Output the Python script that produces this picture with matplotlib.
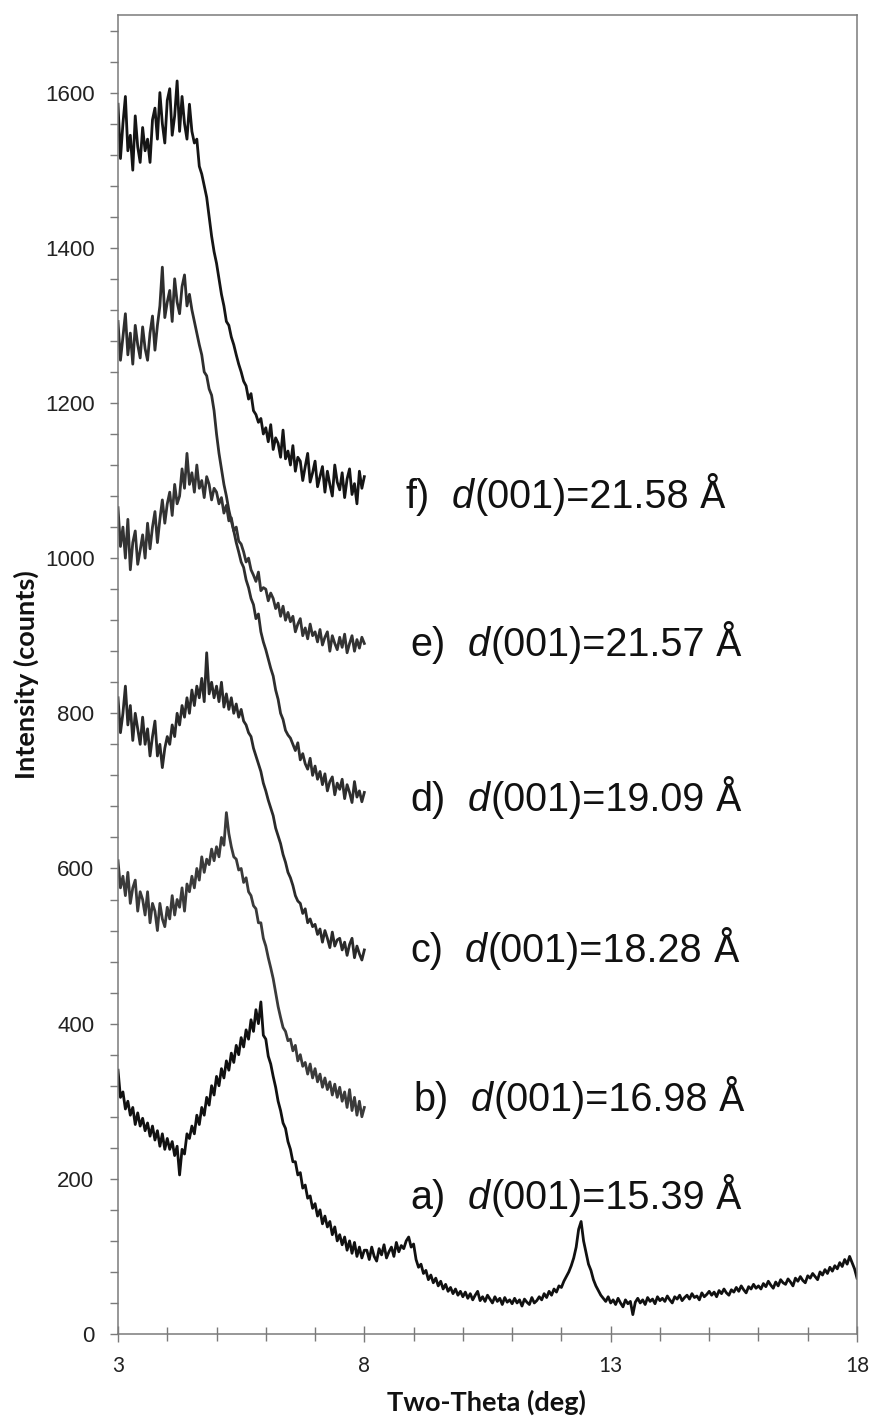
import numpy as np
import matplotlib
matplotlib.use("Agg")
import matplotlib.pyplot as plt
from matplotlib.ticker import MultipleLocator, FixedLocator

# ---- data ----
two_theta_short = np.round(np.arange(3.0, 8.0001, 0.05), 2)          # scans b-f (101 pts)
two_theta_long = np.concatenate([two_theta_short,
                                 np.round(np.arange(8.05, 18.0001, 0.05), 2)])  # scan a (301 pts)

# f) top curve
curve_f = [1585,1515,1560,1595,1525,1545,1500,1570,1530,1510,
           1555,1525,1540,1510,1565,1580,1540,1600,1560,1535,
           1590,1605,1545,1570,1615,1550,1595,1560,1540,1585,
           1550,1535,1540,1505,1495,1480,1465,1440,1415,1395,
           1380,1360,1340,1325,1305,1300,1285,1275,1262,1250,
           1240,1228,1222,1205,1212,1190,1185,1175,1180,1160,
           1168,1150,1172,1140,1155,1148,1130,1165,1128,1138,
           1120,1145,1112,1130,1125,1100,1118,1135,1098,1110,
           1125,1092,1105,1118,1085,1112,1095,1080,1120,1098,
           1088,1110,1078,1102,1115,1082,1096,1070,1112,1090,
           1105]

# d) curve (starts ~1290, ends ~700)
curve_d = [1305,1255,1285,1315,1262,1290,1250,1300,1275,1258,
           1298,1270,1255,1290,1312,1268,1300,1325,1375,1310,
           1330,1345,1305,1360,1330,1315,1350,1365,1325,1340,
           1320,1305,1290,1275,1262,1240,1235,1218,1210,1190,
           1160,1135,1115,1095,1080,1062,1048,1035,1020,1008,
           995,988,972,962,948,940,922,928,905,892,
           882,870,858,848,830,818,800,792,778,772,
           768,760,752,762,740,748,735,728,742,720,
           732,715,725,708,722,700,712,718,695,710,
           702,715,690,708,698,685,712,692,700,686,
           698]

# e) curve (starts ~1040, ends ~895)
curve_e = [1065,1015,1040,1000,1050,985,1020,1035,992,1010,
           1030,1000,1045,1012,1040,1060,1020,1050,1075,1045,
           1070,1085,1055,1095,1070,1080,1115,1090,1135,1095,
           1110,1085,1120,1090,1100,1078,1105,1095,1075,1090,
           1085,1070,1078,1058,1068,1048,1052,1035,1040,1022,
           1018,1008,995,1000,985,978,970,982,958,962,
           960,945,955,948,935,942,925,938,920,930,
           918,925,905,915,922,900,910,896,915,900,
           905,892,908,888,898,905,880,900,890,882,
           898,885,902,878,890,900,880,895,884,898,
           890]

# c) curve
curve_c = [820,775,800,835,785,810,765,800,780,760,
           795,760,780,745,770,790,745,760,730,755,
           770,760,785,770,800,785,810,795,820,800,
           830,810,835,820,845,815,878,825,840,820,
           835,815,840,808,825,805,820,800,812,795,
           805,790,785,775,770,755,745,735,725,710,
           700,688,678,668,652,642,632,618,608,595,
           588,578,565,558,555,542,548,530,535,525,
           528,515,522,505,520,510,498,518,500,508,
           510,495,505,488,502,510,485,500,490,482,
           495]

# b) curve
curve_b = [610,575,590,565,595,555,575,585,545,570,
           560,540,570,530,555,545,520,555,535,525,
           550,535,565,540,560,550,575,545,580,570,
           590,575,600,585,615,595,612,605,625,610,
           628,615,640,630,672,645,628,615,612,598,
           600,582,588,570,565,552,548,530,530,510,
           500,485,472,458,440,422,408,395,390,378,
           380,365,372,352,360,345,350,335,348,330,
           342,325,335,318,330,315,325,308,322,305,
           318,300,312,292,315,288,305,282,300,280,
           292]

# a) curve, 3-18 deg
curve_a = [340,305,312,290,300,282,292,270,285,268,
           278,262,272,255,268,250,262,242,258,238,
           252,238,248,230,242,205,238,232,258,252,
           268,258,282,270,292,282,305,295,320,308,
           332,320,342,330,352,340,362,350,372,360,
           382,370,392,380,405,390,418,400,428,385,
           380,358,348,332,318,300,288,272,265,248,
           238,222,222,205,208,188,192,175,178,162,
           168,152,160,142,152,138,145,128,138,120,
           128,115,125,108,120,104,118,100,112,98,
           108,
           108,96,112,100,94,110,102,115,98,106,
           112,100,118,106,114,110,120,125,112,116,
           96,86,90,78,82,70,76,66,72,62,
           68,58,64,55,60,52,58,50,55,48,
           54,46,52,44,50,55,43,48,42,50,
           45,40,48,42,46,38,47,41,44,39,
           46,40,44,36,45,41,38,47,40,43,
           48,44,52,47,55,50,58,54,62,60,
           68,74,80,88,98,112,135,145,120,105,
           90,82,70,62,56,50,46,42,48,40,
           44,38,46,40,35,44,39,42,25,41,
           46,40,44,38,47,42,45,39,48,43,
           46,42,49,44,40,48,45,50,43,47,
           50,45,52,47,49,44,53,48,51,55,
           50,54,48,56,52,58,53,50,57,54,
           60,55,62,57,53,61,58,64,59,62,
           58,65,61,68,63,59,67,62,70,66,
           64,71,67,62,72,68,74,69,66,75,
           72,78,74,70,80,76,83,78,86,81,
           88,84,92,87,96,90,100,92,84,72]

label_letters = ["f)", "e)", "d)", "c)", "b)", "a)"]
label_values = ["(001)=21.58", "(001)=21.57", "(001)=19.09",
                "(001)=18.28", "(001)=16.98", "(001)=15.39"]
label_unit = "Å"

y_ticks = [0, 200, 400, 600, 800, 1000, 1200, 1400, 1600]
x_ticks = [3, 8, 13, 18]

# ---- figure ----
W, H = 874, 1418
fig = plt.figure(figsize=(W / 100, H / 100), dpi=100)
ax = fig.add_axes([118 / W, 1 - 1334 / H, (857 - 118) / W, (1334 - 15) / H])

short_series = [(curve_f, '#151515'), (curve_d, '#2e2e2e'), (curve_e, '#333333'),
                (curve_c, '#2a2a2a'), (curve_b, '#3a3a3a')]
for vals, col in short_series:
    ax.plot(two_theta_short, vals, color=col, lw=2.0)
ax.plot(two_theta_long, curve_a, color='#111111', lw=2.0)

ax.set_xlim(3, 18)
ax.set_ylim(0, 1700)
ax.xaxis.set_major_locator(FixedLocator(x_ticks))
ax.xaxis.set_minor_locator(MultipleLocator(1))
ax.yaxis.set_major_locator(FixedLocator(y_ticks))
ax.yaxis.set_minor_locator(MultipleLocator(40))

spine_col = '#7a7a7a'
for s in ax.spines.values():
    s.set_color(spine_col)
    s.set_linewidth(1.1)

ax.tick_params(axis='x', which='major', direction='inout', length=12, width=1,
               color=spine_col, pad=10, labelsize=15, labelcolor='#222222')
ax.tick_params(axis='x', which='minor', direction='inout', length=10, width=1,
               color=spine_col)
ax.tick_params(axis='y', which='major', direction='out', length=6, width=1,
               color=spine_col, pad=11, labelsize=16, labelcolor='#222222')
ax.tick_params(axis='y', which='minor', direction='out', length=6, width=1,
               color=spine_col)
for lab in ax.get_xticklabels():
    lab.set_family('Lato')
for lab in ax.get_yticklabels():
    lab.set_family('Liberation Sans')

fig.text(486 / W, 1 - 1402 / H, 'Two-Theta (deg)', family='Lato', fontweight='bold',
         fontsize=19.5, ha='center', va='center', color='#111111')
fig.text(26 / W, 1 - 675 / H, 'Intensity (counts)', family='Lato', fontweight='bold',
         fontsize=19.5, ha='center', va='center', rotation=90, color='#111111')

# annotations: "x)  d(001)=.. Å" with italic d
renderer = fig.canvas.get_renderer()
label_pos = [(405, 508), (410, 656), (410, 811), (410, 962), (413, 1111), (410, 1209)]
fs = 28.5
tc = '#111111'
for (px, py), lett, val in zip(label_pos, label_letters, label_values):
    yb = 1 - py / H
    t1 = fig.text(px / W, yb, lett, family='Liberation Sans', fontsize=fs,
                  ha='left', va='baseline', color=tc)
    x1 = t1.get_window_extent(renderer).x1 + 22
    t2 = fig.text(x1 / W, yb, 'd', family='Liberation Sans', style='italic',
                  fontsize=fs, ha='left', va='baseline', color=tc)
    x2 = t2.get_window_extent(renderer).x1 + 1
    t3 = fig.text(x2 / W, yb, val, family='Liberation Sans', fontsize=fs,
                  ha='left', va='baseline', color=tc)
    x3 = t3.get_window_extent(renderer).x1 + 11
    fig.text(x3 / W, yb, label_unit, family='DejaVu Sans', fontsize=27,
             ha='left', va='baseline', color=tc)

fig.savefig('out.png', dpi=100)
